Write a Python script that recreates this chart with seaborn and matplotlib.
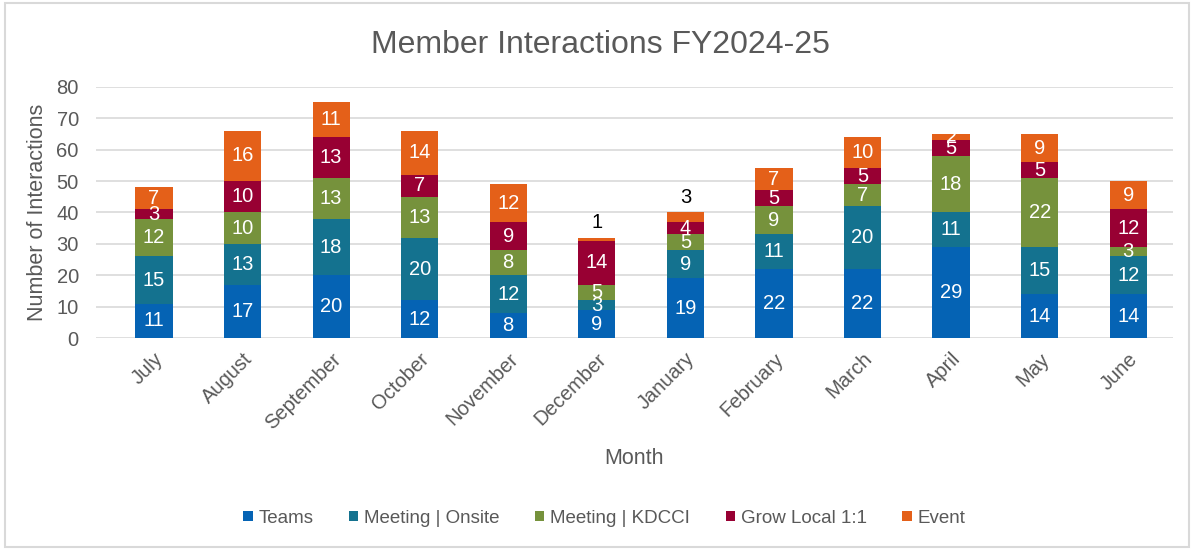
import numpy as np
import pandas as pd
import seaborn as sns
import matplotlib.pyplot as plt
from matplotlib.patches import Rectangle

months = ["July", "August", "September", "October", "November", "December",
          "January", "February", "March", "April", "May", "June"]
teams = [11, 17, 20, 12, 8, 9, 19, 22, 22, 29, 14, 14]
onsite = [15, 13, 18, 20, 12, 3, 9, 11, 20, 11, 15, 12]
kdcci = [12, 10, 13, 13, 8, 5, 5, 9, 7, 18, 22, 3]
grow = [3, 10, 13, 7, 9, 14, 4, 5, 5, 5, 5, 12]
event = [7, 16, 11, 14, 12, 1, 3, 7, 10, 2, 9, 9]

series = {
    "Teams": teams,
    "Meeting | Onsite": onsite,
    "Meeting | KDCCI": kdcci,
    "Grow Local 1:1": grow,
    "Event": event,
}
colors = ["#0563b4", "#14728f", "#76923c", "#980033", "#e46019"]

sns.set_style("white")
plt.rcParams["font.family"] = ["Liberation Sans", "DejaVu Sans"]

fig = plt.figure(figsize=(11.94, 5.49), dpi=100)
ax = fig.add_axes([0.08, 0.384, 0.902, 0.458])

bottom = np.zeros(len(months))
for (name, vals), col in zip(series.items(), colors):
    vals = np.array(vals)
    sns.barplot(x=months, y=vals, bottom=bottom, color=col, width=0.42,
                label=name, ax=ax, saturation=1, zorder=3, linewidth=0)
    for i, v in enumerate(vals):
        if name == "Event" and months[i] in ("December", "January"):
            ax.text(i, bottom[i] + v + 4.8, str(v), ha="center", va="center",
                    fontsize=14.5, color="black")
        else:
            ax.text(i, bottom[i] + v / 2, str(v), ha="center", va="center",
                    fontsize=14.5, color="white", zorder=4)
    bottom += vals

ax.set_ylim(0, 80)
ax.set_xlim(-0.66, 11.5)
ax.set_yticks(range(0, 81, 10))
ax.yaxis.grid(True, color="#d9d9d9", linewidth=1.2, zorder=0)
for s in ax.spines.values():
    s.set_visible(False)
ax.tick_params(axis="y", labelsize=14.5, colors="#595959", length=0, pad=12)
ax.tick_params(axis="x", labelsize=14.5, colors="#595959", length=0, pad=8)
plt.setp(ax.get_xticklabels(), rotation=45, ha="right", rotation_mode="anchor")

ax.set_ylabel("Number of Interactions", fontsize=15.5, color="#595959", labelpad=6)
ax.set_xlabel("Month", fontsize=15.5, color="#595959", labelpad=11)
fig.suptitle("Member Interactions FY2024-25", x=0.503, y=0.945, fontsize=23,
             color="#595959")

handles, labels = ax.get_legend_handles_labels()
if ax.get_legend() is not None:
    ax.get_legend().remove()
fig.legend(handles, labels, loc="center", bbox_to_anchor=(0.506, 0.056), ncol=5,
           frameon=False, fontsize=13.5, handlelength=0.5, handleheight=0.5,
           handletextpad=0.3, columnspacing=1.9, labelcolor="#595959")

fig.patches.append(Rectangle((0.004, 0.004), 0.992, 0.99, transform=fig.transFigure,
                             fill=False, edgecolor="#d9d9d9", linewidth=1.5))

fig.savefig("out.png", dpi=100)
